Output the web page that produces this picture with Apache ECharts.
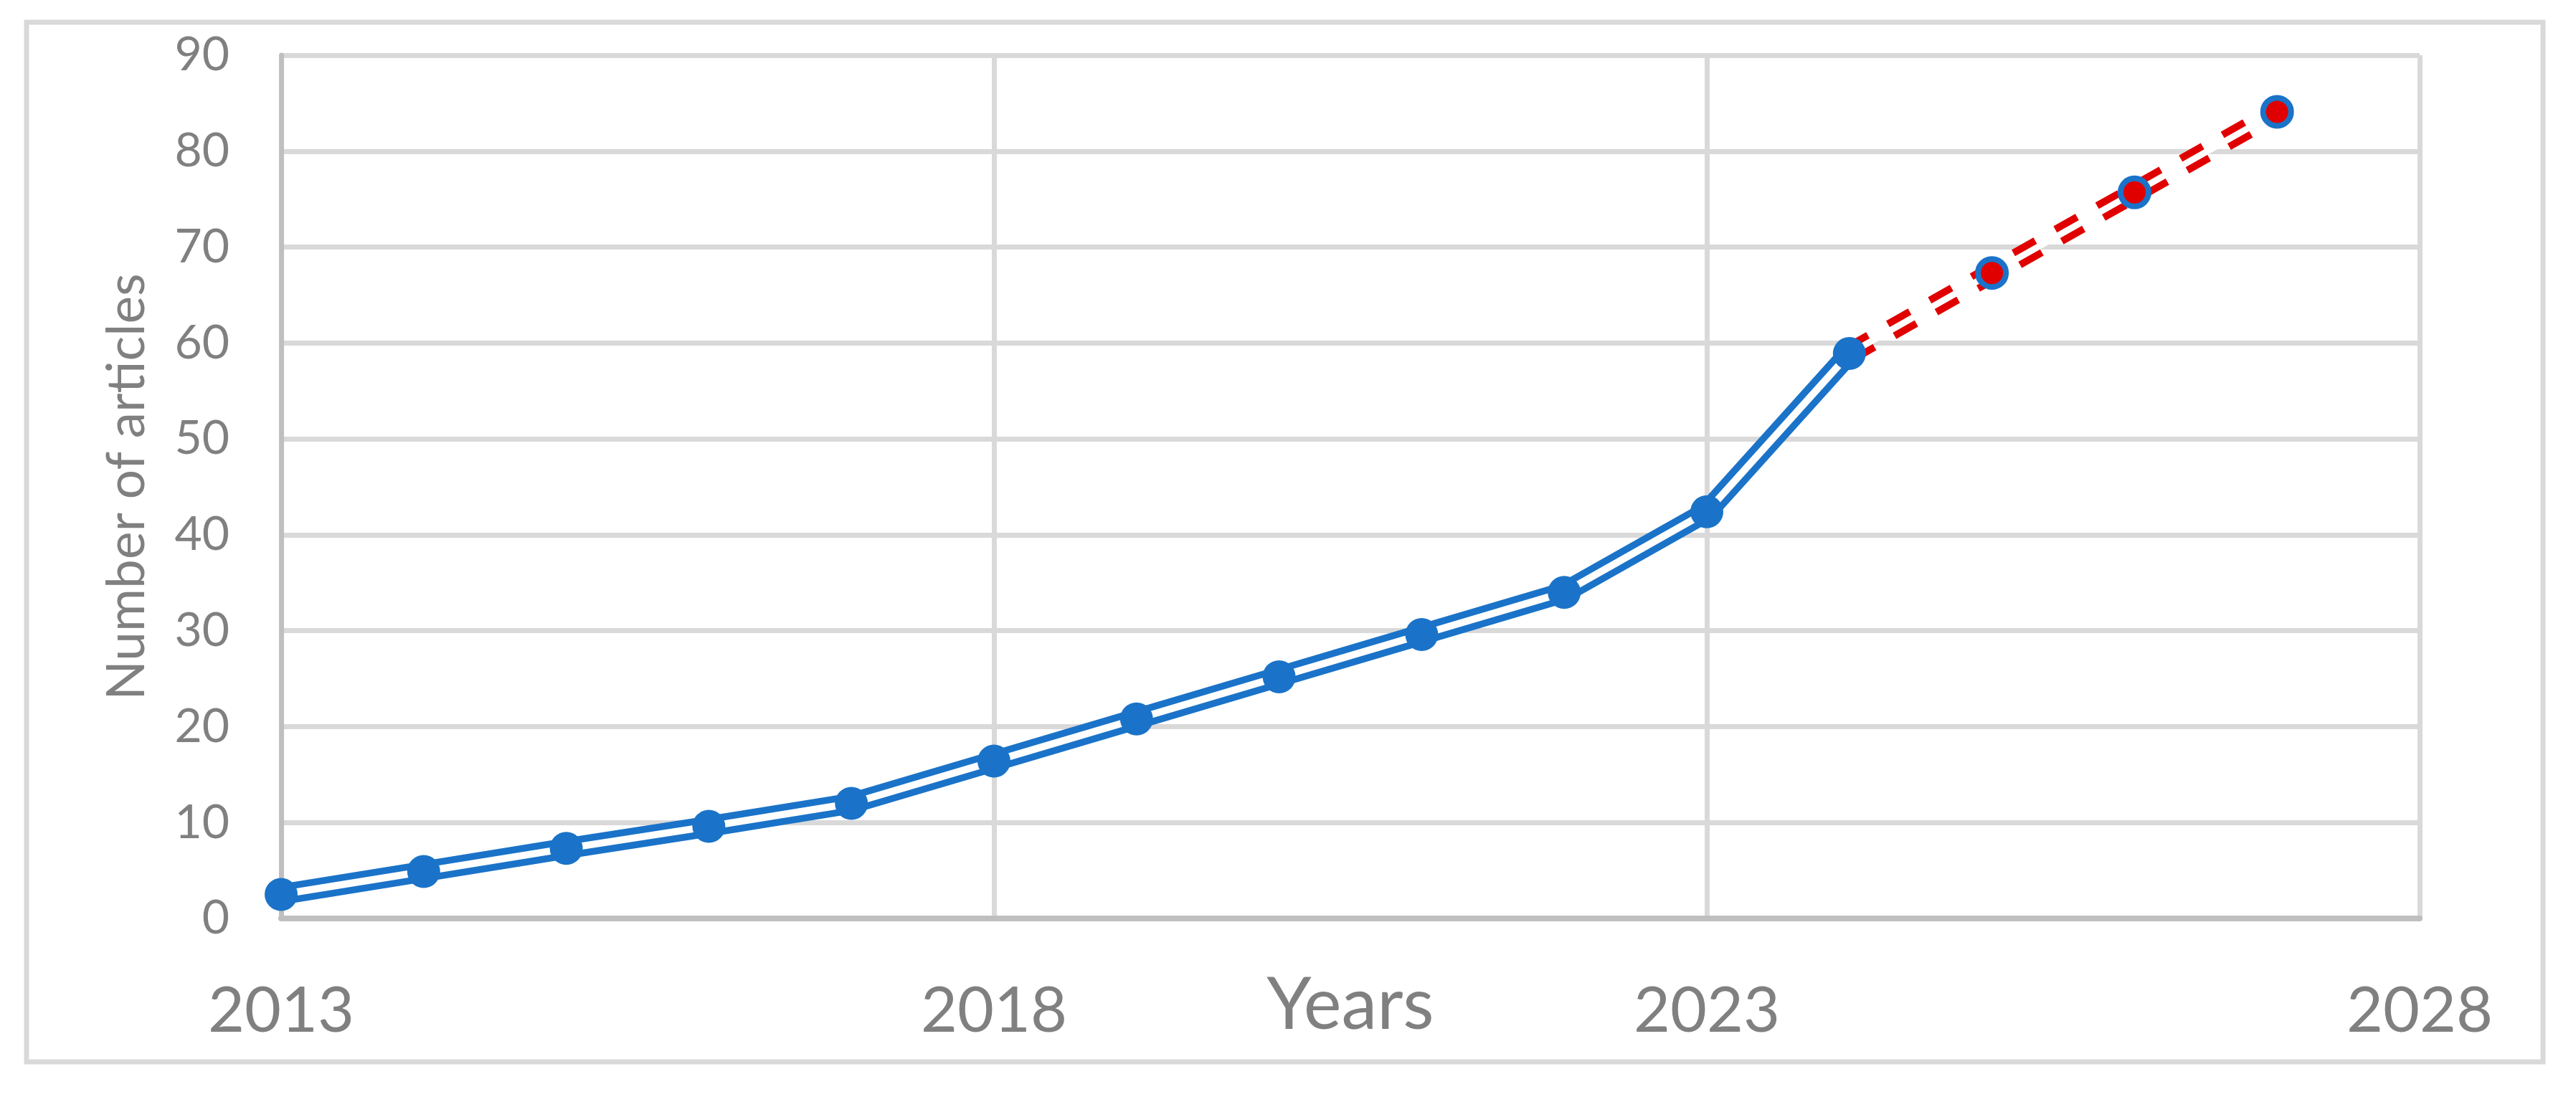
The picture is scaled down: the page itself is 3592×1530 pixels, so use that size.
<!DOCTYPE html>
<html>
<head>
<meta charset="utf-8">
<script src="https://cdn.jsdelivr.net/npm/echarts@6/dist/echarts.min.js"></script>
<style>
  html, body { margin: 0; padding: 0; background: #fff; }
  #main { width: 3592px; height: 1530px; }
</style>
</head>
<body>
<div id="main"></div>
<script>
// observed counts per year
const years = [2013, 2014, 2015, 2016, 2017, 2018, 2019, 2020, 2021, 2022, 2023, 2024]
const articles = [2.5, 4.9, 7.3, 9.6, 12.0, 16.4, 20.8, 25.2, 29.6, 34.0, 42.4, 58.9]
// forecast (starts at the last observed point)
const forecastYears = [2024, 2025, 2026, 2027]
const forecastArticles = [58.9, 67.3, 75.7, 84.1]
const xTicks = [2013, 2018, 2023, 2028]

const blue = '#1a73c8'
const red = '#e00000'
const gray = '#808080'
const fontFamily = 'Lato, "Open Sans", sans-serif'

const actualData = years.map((y, i) => [y, articles[i]])
const forecastData = forecastYears.map((y, i) => [y, forecastArticles[i]])

const chart = echarts.init(document.getElementById('main'))

const option = {
  animation: false,
  backgroundColor: '#fff',
  textStyle: { fontFamily: fontFamily },
  graphic: [
    {
      type: 'rect',
      shape: { x: 37, y: 31, width: 3509, height: 1450 },
      style: { fill: 'none', stroke: '#d9d9d9', lineWidth: 7 },
      z: -1
    }
  ],
  grid: {
    left: 392,
    top: 77,
    right: 218,
    bottom: 249,
    outerBoundsMode: 'none'
  },
  xAxis: {
    type: 'value',
    min: xTicks[0],
    max: xTicks[xTicks.length - 1],
    interval: 5,
    name: 'Years',
    nameLocation: 'middle',
    nameGap: 72,
    nameMoveOverlap: false,
    nameTextStyle: { color: gray, fontSize: 100, fontFamily: fontFamily },
    axisLine: { show: true, lineStyle: { color: '#bfbfbf', width: 8 } },
    axisTick: { show: false },
    axisLabel: {
      color: gray,
      fontSize: 88,
      margin: 86,
      fontFamily: fontFamily,
      formatter: v => String(v)
    },
    splitLine: { show: true, lineStyle: { color: '#d9d9d9', width: 7 } }
  },
  yAxis: {
    type: 'value',
    min: 0,
    max: 90,
    interval: 10,
    name: 'Number of articles',
    nameLocation: 'middle',
    nameRotate: 90,
    nameGap: 178,
    nameMoveOverlap: false,
    nameTextStyle: { color: gray, fontSize: 73, fontFamily: fontFamily },
    axisLine: { show: true, lineStyle: { color: '#bfbfbf', width: 7 } },
    axisTick: { show: false },
    axisLabel: { color: gray, fontSize: 66, margin: 72, fontFamily: fontFamily },
    splitLine: { show: true, lineStyle: { color: '#d9d9d9', width: 7 } }
  },
  series: [
    // double line: thick blue with a white core
    {
      name: 'actual',
      type: 'line',
      data: actualData,
      symbol: 'none',
      lineStyle: { color: blue, width: 29 },
      z: 2
    },
    {
      name: 'actualCore',
      type: 'line',
      data: actualData,
      symbol: 'none',
      lineStyle: { color: '#fff', width: 10 },
      z: 3
    },
    {
      name: 'forecast',
      type: 'line',
      data: forecastData,
      symbol: 'none',
      lineStyle: { color: red, width: 29, type: [35, 32] },
      z: 2
    },
    {
      name: 'forecastCore',
      type: 'line',
      data: forecastData,
      symbol: 'none',
      lineStyle: { color: '#fff', width: 9 },
      z: 3
    },
    {
      name: 'actualPoints',
      type: 'scatter',
      data: actualData,
      symbol: 'circle',
      symbolSize: 46,
      itemStyle: { color: blue, opacity: 1 },
      clip: false,
      z: 5
    },
    {
      name: 'forecastPoints',
      type: 'scatter',
      data: forecastData.slice(1),
      symbol: 'circle',
      symbolSize: 39,
      itemStyle: { color: red, borderColor: blue, borderWidth: 8, opacity: 1 },
      clip: false,
      z: 5
    }
  ]
}

chart.setOption(option)
</script>
</body>
</html>
